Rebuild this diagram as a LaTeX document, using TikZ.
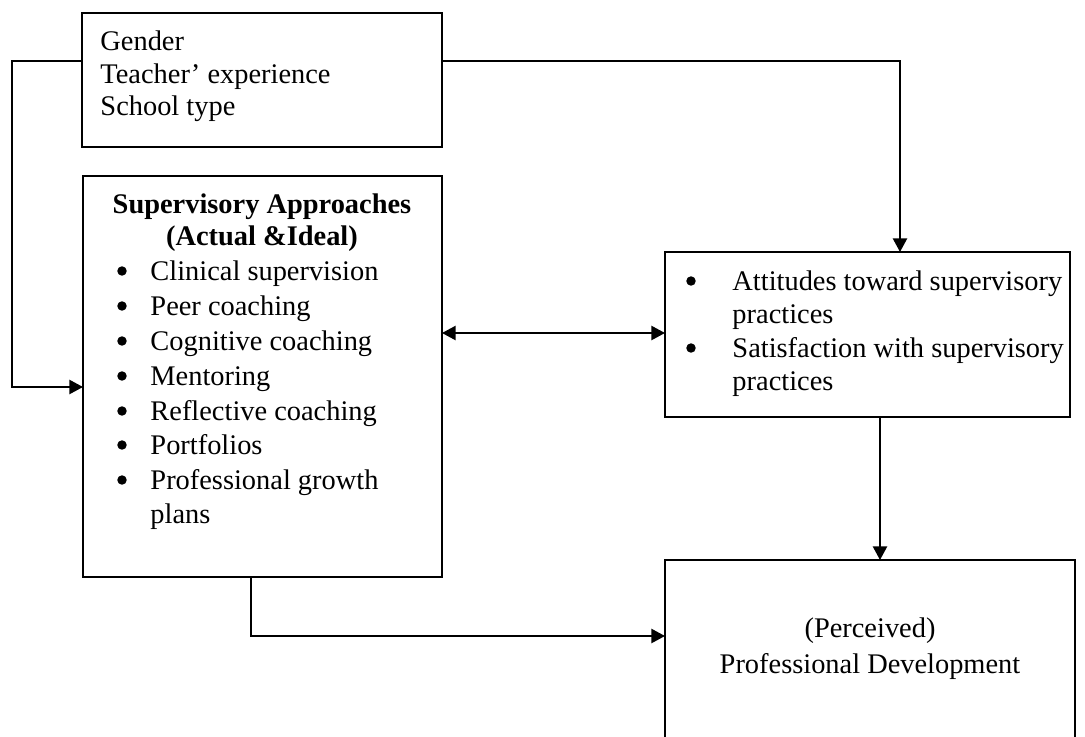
\documentclass[tikz,border=0pt]{standalone}
\usepackage{fontspec}
\setmainfont{Liberation Serif}
\usetikzlibrary{arrows.meta,fit}
\begin{document}
\begin{tikzpicture}[x=0.4225pt,y=-0.4225pt,
  box/.style={draw, line width=0.9pt, inner sep=0pt, outer sep=0pt},
  txt/.style={anchor=base west, inner sep=0pt, font=\fontsize{12}{14}\selectfont},
  ctxt/.style={anchor=base, inner sep=0pt, font=\fontsize{12}{14}\selectfont},
  btxt/.style={anchor=base, inner sep=0pt, font=\fontsize{12}{14}\selectfont\bfseries},
  bul/.style={circle, fill, inner sep=0pt, minimum size=4pt},
  conn/.style={line width=0.9pt, -{Triangle[length=5.8pt,width=6pt]}},
  dconn/.style={line width=0.9pt, {Triangle[length=5.8pt,width=6pt]}-{Triangle[length=5.8pt,width=6pt]}}]
\useasboundingbox (0,0) rectangle (1085,736);
% boxes
\node[box, fit={(82,13) (442,147)}] (b1) {};
\node[box, fit={(83,176) (442,577)}] (b2) {};
\node[box, fit={(665,252) (1070,417)}] (b3) {};
\node[box, fit={(665,560) (1075,740)}] (b4) {};
% box 1 text
\node[txt] (g1) at (100,50) {Gender};
\node[txt] (g2) at (100,83) {Teacher’ experience};
\node[txt] (g3) at (100,115) {School type};
% box 2 text
\node[btxt] (s0) at (262,213) {Supervisory Approaches};
\node[btxt] (s1) at (262,245) {(Actual \&Ideal)};
\foreach \y/\t [count=\i] in {280/Clinical supervision, 315/Peer coaching, 350/Cognitive coaching, 385/Mentoring, 420/Reflective coaching, 454/Portfolios, 489/Professional growth}{
  \node[bul] (sb\i) at (122,\y-9) {};
  \node[txt] (st\i) at (150,\y) {\t};
}
\node[txt] (st8) at (150,523) {plans};
% box 3 text
\node[bul] (ab1) at (691,281) {};
\node[txt] (at1) at (732,290) {Attitudes toward supervisory};
\node[txt] (at2) at (732,323) {practices};
\node[bul] (ab2) at (691,348) {};
\node[txt] (at3) at (732,357) {Satisfaction with supervisory};
\node[txt] (at4) at (732,390) {practices};
% box 4 text
\node[ctxt] (p1) at (870,637) {(Perceived)};
\node[ctxt] (p2) at (870,673) {Professional Development};
% connector coordinates
\coordinate (l1) at (12,61);
\coordinate (l2) at (12,387);
\coordinate (r1) at (900,61);
\coordinate (h) at (0,333);
\coordinate (v) at (880,0);
\coordinate (d1) at (251,636);
% connectors
\draw[conn] (b1.west |- l1) -- (l1) -- (l2) -- (b2.west |- l2);
\draw[conn] (b1.east |- r1) -- (r1) -- (r1 |- b3.north);
\draw[dconn] (b2.east |- h) -- (b3.west |- h);
\draw[conn] (b3.south -| v) -- (b4.north -| v);
\draw[conn] (b2.south -| d1) -- (d1) -- (b4.west |- d1);
\end{tikzpicture}
\end{document}
